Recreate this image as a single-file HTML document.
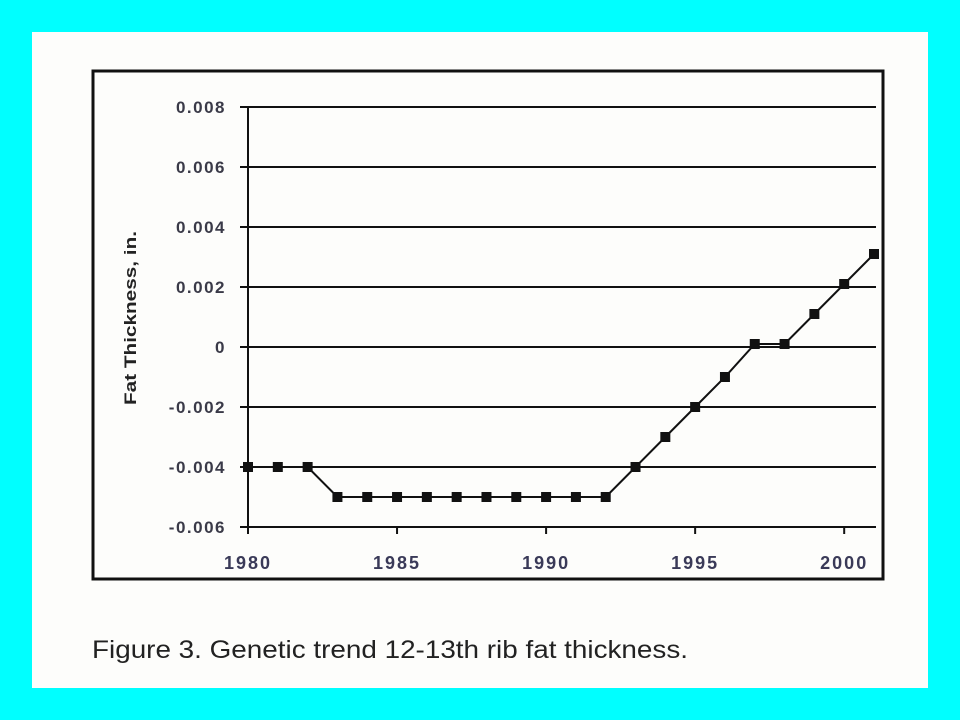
<!DOCTYPE html>
<html><head><meta charset="utf-8"><style>
body{margin:0;width:960px;height:720px;background:#00ffff;overflow:hidden;font-family:"Liberation Sans",Arial,sans-serif}
#panel{position:absolute;left:32px;top:32px;width:896px;height:656px;background:#fdfdfb}
</style></head><body>
<div id="panel"></div>
<svg id="chart" width="960" height="720" style="position:absolute;left:0;top:0">
<rect x="93" y="71" width="790" height="508" fill="none" stroke="#111" stroke-width="3"/>
<g id="grid"></g><g id="axes"></g><g id="series"></g>
<text x="0" y="0" transform="translate(136,318) rotate(-90)" text-anchor="middle" font-size="17" font-weight="bold" fill="#222" textLength="174" lengthAdjust="spacingAndGlyphs">Fat Thickness, in.</text>
<text x="92" y="658" font-size="25" fill="#222" textLength="596" lengthAdjust="spacingAndGlyphs">Figure 3. Genetic trend 12-13th rib fat thickness.</text>
</svg>
<script>
const years=[1980,1981,1982,1983,1984,1985,1986,1987,1988,1989,1990,1991,1992,1993,1994,1995,1996,1997,1998,1999,2000,2001];
const values=[-0.004,-0.004,-0.004,-0.005,-0.005,-0.005,-0.005,-0.005,-0.005,-0.005,-0.005,-0.005,-0.005,-0.004,-0.003,-0.002,-0.001,0.0001,0.0001,0.0011,0.0021,0.0031];
const yTicks=[0.008,0.006,0.004,0.002,0,-0.002,-0.004,-0.006];
const yTickLabels=["0.008","0.006","0.004","0.002","0","-0.002","-0.004","-0.006"];
const xTicks=[1980,1985,1990,1995,2000];
const NS="http://www.w3.org/2000/svg";
const x=v=>248+(v-1980)*(874-248)/21;
const y=v=>347-v*30000;
function mk(tag,attrs,parent){const e=document.createElementNS(NS,tag);for(const k in attrs)e.setAttribute(k,attrs[k]);document.getElementById(parent).appendChild(e);return e;}
yTicks.forEach((t,i)=>{
 const l=mk('line',{x1:240,x2:876,y1:y(t),y2:y(t),stroke:'#111','stroke-width':2},'grid');
 
 
 const tx=mk('text',{x:226,y:y(t)+6,'text-anchor':'end','font-size':17,'font-weight':'bold','letter-spacing':1.5,fill:'#3a3a48'},'axes');
 tx.textContent=yTickLabels[i];
 
 
});
const ax=mk('line',{x1:248,x2:248,y1:y(0.008),y2:y(-0.006),stroke:'#111','stroke-width':2},'axes');


xTicks.forEach(t=>{
 const l=mk('line',{x1:x(t),x2:x(t),y1:y(-0.006),y2:y(-0.006)+7,stroke:'#111','stroke-width':2},'axes');
 
 
 const tx=mk('text',{x:x(t),y:569,'text-anchor':'middle','font-size':18,'font-weight':'bold','letter-spacing':2,fill:'#3a3a58'},'axes');
 tx.textContent=t;
 
 
});
const p=mk('polyline',{points:years.map((yr,i)=>x(yr)+','+y(values[i])).join(' '),fill:'none',stroke:'#111','stroke-width':2},'series');


years.forEach((yr,i)=>{
 const r=mk('rect',{x:x(yr)-5,y:y(values[i])-5,width:10,height:10,fill:'#111'},'series');
 
 
});
</script>
</body></html>
